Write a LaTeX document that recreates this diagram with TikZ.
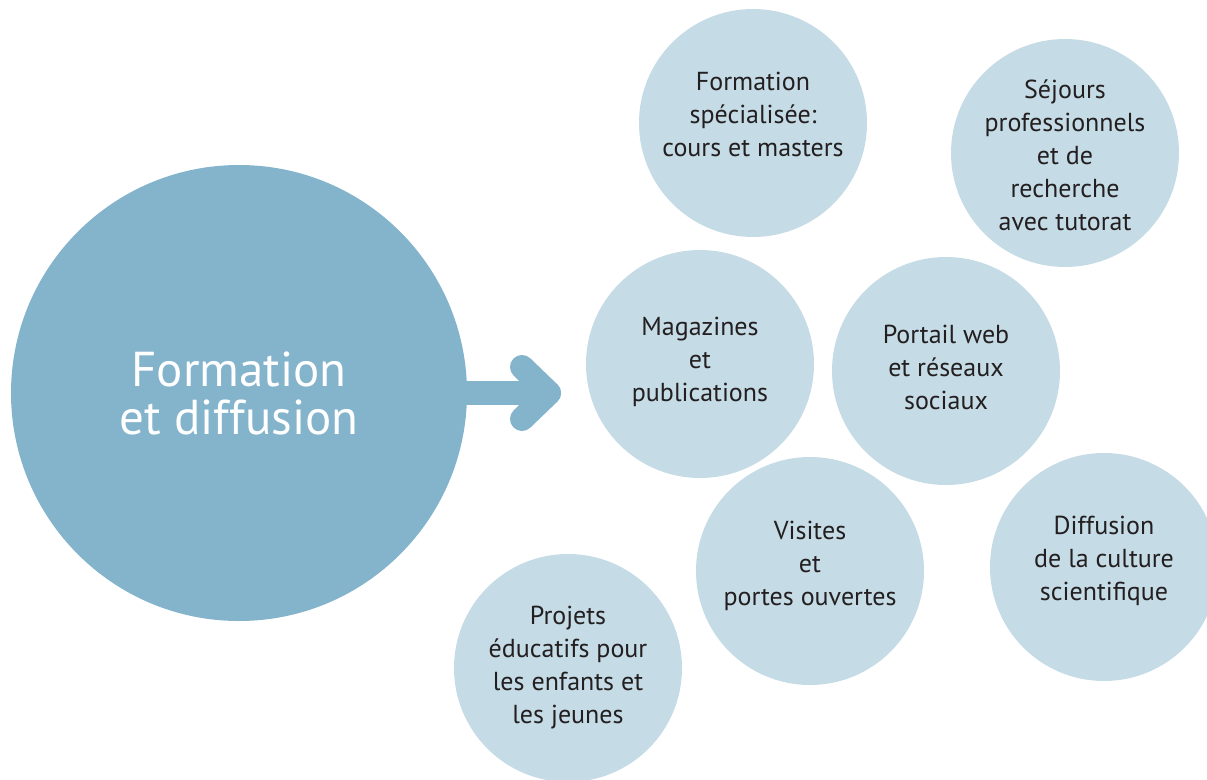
\documentclass[tikz,border=0pt]{standalone}
\usepackage{fontspec}
\setmainfont{PT Sans}
\definecolor{bigblue}{HTML}{84B3CC}
\definecolor{paleblue}{HTML}{C5DBE5}
\definecolor{inkgray}{HTML}{231F20}
\tikzset{
  mainbubble/.style={circle, fill=bigblue, minimum size=456pt, inner sep=0pt, align=center, text=white, font=\fontsize{49}{48}\selectfont},
  bubble/.style={circle, fill=paleblue, minimum size=228pt, inner sep=0pt},
  words/.style={align=center, text=inkgray, font=\fontsize{26}{33}\selectfont},
  flow/.style={draw=bigblue, line width=24pt, line cap=round, line join=round}
}

\begin{document}
\begin{tikzpicture}[x=1pt, y=-1pt]
\useasboundingbox (0,0) rectangle (1207,779);
\coordinate (tip) at (549,393);
\draw[flow] (239,393) -- (tip);
\draw[flow] ([shift={(-27,-26)}]tip) -- (tip) -- ([shift={(-27,26)}]tip);
\node[mainbubble] (main) at (239,393) {Formation\\et diffusion};
\node[bubble, label={[words, yshift=9pt]center:{Formation\\spécialisée:\\cours et masters}}] (cours) at (753,123) {};
\node[bubble, label={[words, yshift=-2pt]center:{Séjours\\professionnels\\et de\\recherche\\avec tutorat}}] (sejours) at (1065,153) {};
\node[bubble, label={[words, yshift=2pt]center:{Magazines\\et\\publications}}] (magazines) at (700,364) {};
\node[bubble, label={[words, yshift=4pt]center:{Portail web\\et réseaux\\sociaux}}] (portail) at (946,371) {};
\node[bubble, label={[words, yshift=5pt]center:{Visites\\et\\portes ouvertes}}] (visites) at (810,571) {};
\node[bubble, label={[words, yshift=6pt]center:{Diffusion\\de la culture\\scientifique}}] (culture) at (1104,567) {};
\node[bubble, label={[words]center:{Projets\\éducatifs pour\\les enfants et\\les jeunes}}] (projets) at (568,668) {};
\end{tikzpicture}
\end{document}
